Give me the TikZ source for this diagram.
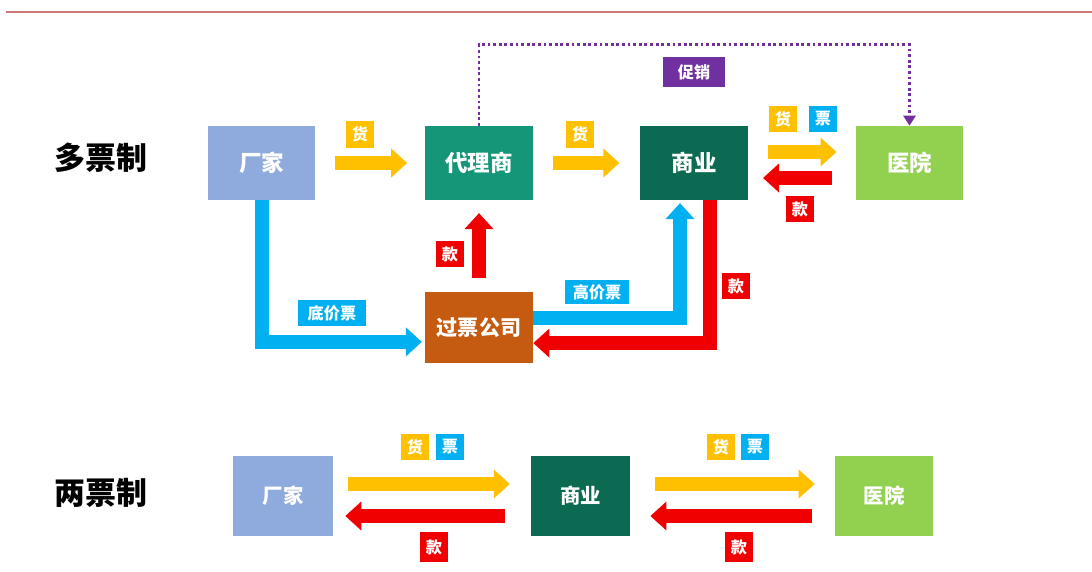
\documentclass[tikz,border=0pt]{standalone}
\usepackage{fontspec}
\setmainfont{Noto Sans CJK SC}
\usetikzlibrary{arrows.meta,positioning}

\definecolor{cjblue}{RGB}{143,170,220}
\definecolor{dlgreen}{RGB}{22,150,120}
\definecolor{sygreen}{RGB}{12,106,82}
\definecolor{yylime}{RGB}{146,208,80}
\definecolor{gporange}{RGB}{197,90,17}
\definecolor{huang}{RGB}{255,192,0}
\definecolor{lan}{RGB}{0,176,240}
\definecolor{hong}{RGB}{240,0,0}
\definecolor{zi}{RGB}{112,48,160}
\definecolor{topline}{RGB}{205,120,120}

\tikzset{
  box/.style={minimum width=2.675cm, minimum height=1.85cm, inner sep=0pt,
    text=white, font=\fontsize{16}{18}\selectfont\bfseries},
  tag/.style={minimum width=0.72cm, minimum height=0.66cm, inner sep=0.04cm,
    text=white, font=\fontsize{11.5}{13}\selectfont\bfseries},
  fat/.style={line width=0.35cm, -{Triangle[width=0.7cm,length=0.4cm]}},
  title/.style={font=\fontsize{22}{26}\selectfont\bfseries}
}

\begin{document}
\begin{tikzpicture}[x=0.025cm,y=-0.025cm]
\useasboundingbox (0,0) rectangle (1092,572);

\draw[topline,line width=0.07cm] (6,12) -- (1092,12);

\node[title] (duo) at (101,158) {多票制};
\node[title] (liang) at (101,493) {两票制};

% multi-invoice row
\node[box,fill=cjblue] (cj) at (261.5,163) {厂家};
\node[box,fill=dlgreen] (dl) at (479,163) {代理商};
\node[box,fill=sygreen] (sy) at (694,163) {商业};
\node[box,fill=yylime] (yy) at (909.5,163) {医院};
\node[box,fill=gporange,minimum width=2.7cm,minimum height=1.775cm,
  font=\fontsize{15}{17}\selectfont\bfseries] (gp) at (479,327.5) {过票公司};

\draw[zi,line width=0.07cm,dash pattern=on 0.07cm off 0.07cm,
  -{Triangle[width=0.3cm,length=0.25cm]}] (dl.north) -- ++(0,-81) -| (yy.north);
\node[tag,fill=zi,minimum width=1.55cm,minimum height=0.75cm] (cx) at (694,72) {促销};

\draw[fat,huang,shorten <=0.5cm,shorten >=0.45cm] (cj) -- (dl);
\draw[fat,huang,shorten <=0.5cm,shorten >=0.52cm] (dl) -- (sy);
\draw[fat,huang,shorten <=0.5cm,shorten >=0.48cm] ([yshift=0.275cm]sy.east) -- ([yshift=0.275cm]yy.west);
\draw[fat,hong,shorten <=0.6cm,shorten >=0.38cm] ([yshift=-0.375cm]yy.west) -- ([yshift=-0.375cm]sy.east);
\draw[fat,hong,shorten <=0.35cm,shorten >=0.32cm] (gp) -- (dl);
\draw[fat,lan,shorten >=0.07cm] (cj.south) |- ([yshift=-0.36cm]gp.west);
\draw[fat,lan,shorten >=0.07cm] ([yshift=0.24cm]gp.east) -| ([xshift=-0.35cm]sy.south);
\draw[fat,hong] ([xshift=0.4cm]sy.south) |- ([yshift=-0.39cm]gp.east);

\node[tag,fill=huang] (h1) at (360,134.5) {货};
\node[tag,fill=huang] (h2) at (580,134.5) {货};
\node[tag,fill=huang] (h3) at (783,119) {货};
\node[tag,fill=lan] (p3) at (823,119) {票};
\node[tag,fill=hong] (k3) at (800,209) {款};
\node[tag,fill=hong] (k1) at (450,254) {款};
\node[tag,fill=hong] (k2) at (736,286) {款};
\node[tag,fill=lan,minimum width=1.7cm] (dj) at (332,313) {底价票};
\node[tag,fill=lan,minimum width=1.62cm,minimum height=0.62cm] (gj) at (597,292) {高价票};

% two-invoice row
\node[box,fill=cjblue,minimum width=2.5cm,minimum height=2cm,
  font=\fontsize{14.5}{17}\selectfont\bfseries] (cj2) at (283,496) {厂家};
\node[box,fill=sygreen,minimum width=2.48cm,minimum height=2cm,
  font=\fontsize{14.5}{17}\selectfont\bfseries] (sy2) at (580.5,496) {商业};
\node[box,fill=yylime,minimum width=2.45cm,minimum height=2cm,
  font=\fontsize{14.5}{17}\selectfont\bfseries] (yy2) at (884,496) {医院};

\draw[fat,huang,shorten <=0.37cm,shorten >=0.52cm] ([yshift=0.3cm]cj2.east) -- ([yshift=0.3cm]sy2.west);
\draw[fat,hong,shorten <=0.65cm,shorten >=0.3cm] ([yshift=-0.5cm]sy2.west) -- ([yshift=-0.5cm]cj2.east);
\draw[fat,huang,shorten <=0.62cm,shorten >=0.5cm] ([yshift=0.3cm]sy2.east) -- ([yshift=0.3cm]yy2.west);
\draw[fat,hong,shorten <=0.57cm,shorten >=0.5cm] ([yshift=-0.5cm]yy2.west) -- ([yshift=-0.5cm]sy2.east);

\node[tag,fill=huang] (h4) at (415,447) {货};
\node[tag,fill=lan] (p4) at (450,447) {票};
\node[tag,fill=hong,minimum height=0.75cm] (k4) at (434,547) {款};
\node[tag,fill=huang] (h5) at (721,447) {货};
\node[tag,fill=lan] (p5) at (755,447) {票};
\node[tag,fill=hong,minimum height=0.75cm] (k5) at (739,547) {款};

\end{tikzpicture}
\end{document}
